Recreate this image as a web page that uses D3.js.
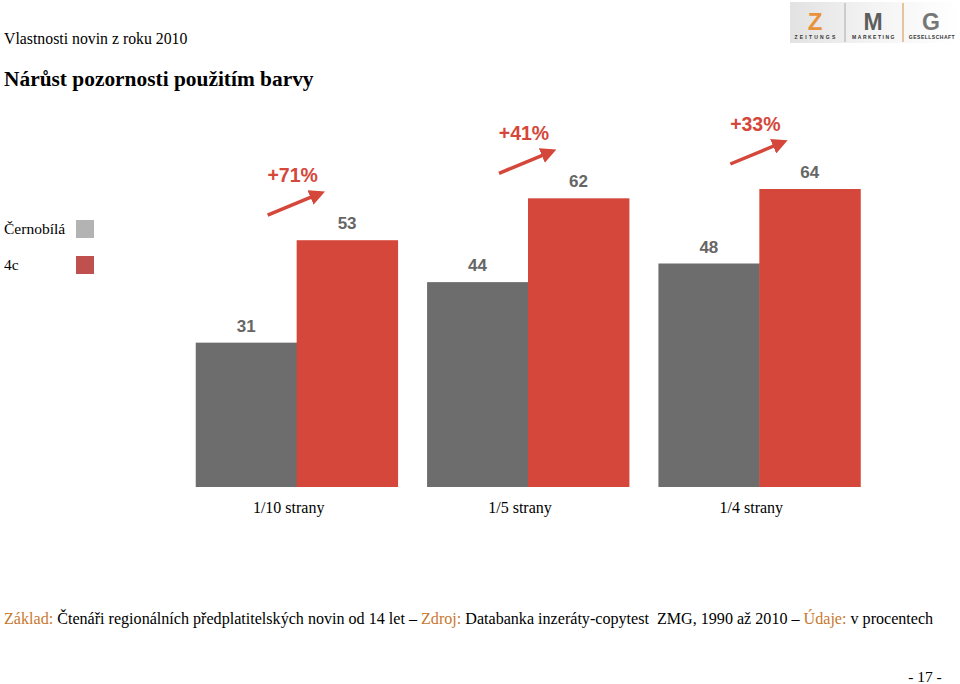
<!DOCTYPE html>
<html>
<head>
<meta charset="utf-8">
<script src="https://cdn.jsdelivr.net/npm/d3@7"></script>
<style>
  html, body { margin: 0; padding: 0; background: #fff; }
  svg { display: block; }
</style>
</head>
<body>
<script>
// ---- data ----
const categories = ["1/10 strany", "1/5 strany", "1/4 strany"];
const seriesNames = ["Černobílá", "4c"];
const blackWhite = [31, 44, 48];
const color4c = [53, 62, 64];
const increaseLabels = ["+71%", "+41%", "+33%"];

const W = 960, H = 684;
const svg = d3.select("body").append("svg").attr("width", W).attr("height", H);

const serif = "'Liberation Serif', 'Times New Roman', serif";
const sans = "'Liberation Sans', Arial, sans-serif";
const barGrey = "#6d6d6d", barRed = "#d5473a";
const legendGrey = "#b3b3b3", legendRed = "#c0504d";
const orange = "#c8782f";

// header texts
svg.append("text").attr("x", 4).attr("y", 44).attr("font-family", serif)
  .attr("font-size", 15.8).attr("fill", "#000").text("Vlastnosti novin z roku 2010");
svg.append("text").attr("x", 4).attr("y", 86).attr("font-family", serif)
  .attr("font-size", 21.4).attr("font-weight", "bold").attr("fill", "#000")
  .text("Nárůst pozornosti použitím barvy");

// logo
const defs = svg.append("defs");
const lg = defs.append("linearGradient").attr("id", "logoGrad");
lg.append("stop").attr("offset", "0%").attr("stop-color", "#e2e2e2");
lg.append("stop").attr("offset", "50%").attr("stop-color", "#f4f4f4");
lg.append("stop").attr("offset", "100%").attr("stop-color", "#ffffff");
const logo = svg.append("g");
logo.append("rect").attr("x", 790).attr("y", 2).attr("width", 170).attr("height", 41).attr("fill", "url(#logoGrad)");
logo.append("text").attr("x", 815).attr("y", 30).attr("text-anchor", "middle")
  .attr("font-family", sans).attr("font-weight", "bold").attr("font-size", 24).attr("fill", "#e8923a").text("Z");
logo.append("text").attr("x", 873).attr("y", 30).attr("text-anchor", "middle")
  .attr("font-family", sans).attr("font-weight", "bold").attr("font-size", 23).attr("fill", "#5e5e5e").text("M");
logo.append("text").attr("x", 931).attr("y", 30).attr("text-anchor", "middle")
  .attr("font-family", sans).attr("font-weight", "bold").attr("font-size", 23).attr("fill", "#777").text("G");
logo.append("line").attr("x1", 845).attr("x2", 845).attr("y1", 3).attr("y2", 42).attr("stroke", "#aaa").attr("stroke-width", 1);
logo.append("line").attr("x1", 903).attr("x2", 903).attr("y1", 3).attr("y2", 42).attr("stroke", "#e2b47e").attr("stroke-width", 1.5);
logo.append("text").attr("x", 816).attr("y", 39).attr("text-anchor", "middle")
  .attr("font-family", sans).attr("font-weight", "bold").attr("font-size", 5).attr("letter-spacing", 2.2).attr("fill", "#333").text("ZEITUNGS");
logo.append("text").attr("x", 874).attr("y", 39).attr("text-anchor", "middle")
  .attr("font-family", sans).attr("font-weight", "bold").attr("font-size", 5).attr("letter-spacing", 1.5).attr("fill", "#333").text("MARKETING");
logo.append("text").attr("x", 932).attr("y", 39).attr("text-anchor", "middle")
  .attr("font-family", sans).attr("font-weight", "bold").attr("font-size", 5).attr("letter-spacing", 0.5).attr("fill", "#333").text("GESELLSCHAFT");

// scales
const x0 = d3.scaleBand().domain(categories).range([181, 875]).paddingInner(0.1275).paddingOuter(0.0637);
const x1 = d3.scaleBand().domain(seriesNames).range([0, x0.bandwidth()]);
const y = d3.scaleLinear().domain([0, 64]).range([487, 189]);

const rows = categories.map((c, i) => ({
  cat: c, vals: [ {s: seriesNames[0], v: blackWhite[i]}, {s: seriesNames[1], v: color4c[i]} ],
  inc: increaseLabels[i], red: color4c[i]
}));

const groups = svg.append("g").selectAll("g").data(rows).join("g")
  .attr("transform", d => `translate(${x0(d.cat)},0)`);

groups.selectAll("rect").data(d => d.vals).join("rect")
  .attr("x", d => x1(d.s)).attr("width", x1.bandwidth() + 0.5)
  .attr("y", d => y(d.v)).attr("height", d => y(0) - y(d.v))
  .attr("fill", d => d.s === seriesNames[0] ? barGrey : barRed);

groups.selectAll("text.val").data(d => d.vals).join("text").attr("class", "val")
  .attr("x", d => x1(d.s) + x1.bandwidth() / 2)
  .attr("y", d => y(d.v) - 11)
  .attr("text-anchor", "middle").attr("font-family", sans).attr("font-weight", "bold")
  .attr("font-size", 17).attr("fill", "#666").text(d => d.v);

// category labels
svg.append("g").selectAll("text").data(categories).join("text")
  .attr("x", d => x0(d) + x0.bandwidth() / 2 - 8).attr("y", 513)
  .attr("text-anchor", "middle").attr("font-family", serif).attr("font-size", 16)
  .attr("fill", "#000").text(d => d);

// increase annotations with arrows
defs.append("marker").attr("id", "arrowHead").attr("viewBox", "0 0 10 10")
  .attr("refX", 7).attr("refY", 5).attr("markerWidth", 4.5).attr("markerHeight", 4.5)
  .attr("orient", "auto").attr("markerUnits", "strokeWidth")
  .append("path").attr("d", "M0,0 L10,5 L0,10 Z").attr("fill", barRed);

const ann = svg.append("g").selectAll("g").data(rows).join("g")
  .attr("transform", d => `translate(${x0(d.cat) + x0.bandwidth() / 2 - 4},${y(d.red) - 65})`);
ann.append("text").attr("x", 0).attr("y", 7).attr("text-anchor", "middle")
  .attr("font-family", sans).attr("font-weight", "bold").attr("font-size", 19.5)
  .attr("fill", barRed).text(d => d.inc);
ann.append("line").attr("x1", -25).attr("y1", 40).attr("x2", 28).attr("y2", 18)
  .attr("stroke", barRed).attr("stroke-width", 3.5).attr("marker-end", "url(#arrowHead)");

// legend
const leg = svg.append("g").selectAll("g").data([
  {name: seriesNames[0], color: legendGrey, y: 229},
  {name: seriesNames[1], color: legendRed, y: 265}
]).join("g");
leg.append("text").attr("x", 4).attr("y", d => d.y + 5).attr("font-family", serif)
  .attr("font-size", 15.5).attr("fill", "#000").text(d => d.name);
leg.append("rect").attr("x", 76).attr("y", d => d.y - 9).attr("width", 18).attr("height", 18)
  .attr("fill", d => d.color);

// footnote
const foot = svg.append("text").attr("x", 4).attr("y", 624).attr("font-family", serif)
  .attr("font-size", 16.1).attr("fill", "#000").attr("style", "white-space: pre");
const parts = [
  ["Základ:", orange], [" Čtenáři regionálních předplatitelských novin od 14 let – ", "#000"],
  ["Zdroj:", orange], [" Databanka inzeráty-copytest  ZMG, 1990 až 2010 – ", "#000"],
  ["Údaje:", orange], [" v procentech", "#000"]
];
parts.forEach(p => foot.append("tspan").attr("fill", p[1]).text(p[0]));

// page number
svg.append("text").attr("x", 925).attr("y", 682).attr("text-anchor", "middle")
  .attr("font-family", serif).attr("font-size", 15.5).attr("fill", "#000").text("- 17 -");
</script>
</body>
</html>
